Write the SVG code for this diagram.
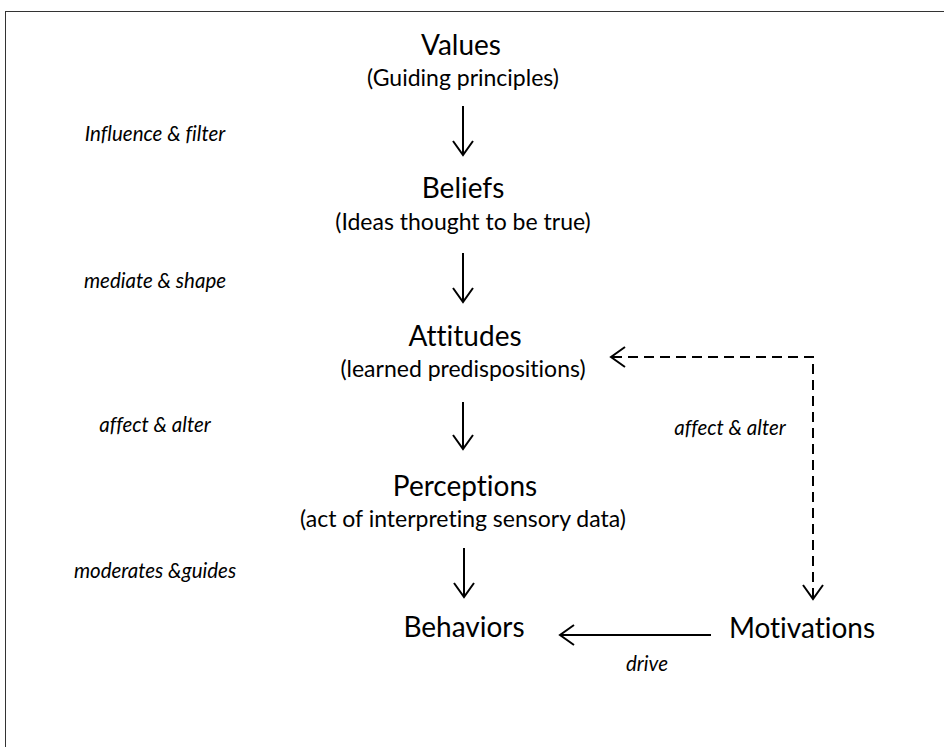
<svg xmlns="http://www.w3.org/2000/svg" width="944" height="747" viewBox="0 0 944 747">
<style>
text{font-family:Lato,"Open Sans","Liberation Sans",sans-serif;fill:#000;text-anchor:middle;font-variant-ligatures:none;font-feature-settings:"liga" 0}
.t{font-size:28px}
.s{font-size:23px}
.l{font-size:20.5px;font-style:italic}
.c{fill:none;stroke:#000;stroke-width:2}
.d{fill:none;stroke:#000;stroke-width:2;stroke-dasharray:10 6}
.h{fill:none;stroke:#000;stroke-width:2;stroke-linejoin:miter}
</style>
<rect x="5.5" y="11.5" width="1000" height="1000" fill="#fff" stroke="#333" stroke-width="1"/>
<g id="values"><text class="t" x="461" y="55">Values</text><text class="s" x="463" y="86">(Guiding principles)</text></g>
<g id="beliefs"><text class="t" x="463" y="198">Beliefs</text><text class="s" x="463" y="230">(Ideas thought to be true)</text></g>
<g id="attitudes"><text class="t" x="465" y="346">Attitudes</text><text class="s" x="463" y="377">(learned predispositions)</text></g>
<g id="perceptions"><text class="t" x="465" y="496">Perceptions</text><text class="s" x="463" y="527">(act of interpreting sensory data)</text></g>
<g id="behaviors"><text class="t" x="464" y="637">Behaviors</text></g>
<g id="motivations"><text class="t" x="802" y="638">Motivations</text></g>
<g id="connectors">
<line class="c" x1="463" y1="106" x2="463" y2="154"/><polyline class="h" points="453,141 463,155 473,141"/>
<line class="c" x1="463" y1="253" x2="463" y2="301"/><polyline class="h" points="453,288 463,302 473,288"/>
<line class="c" x1="463" y1="402" x2="463" y2="448"/><polyline class="h" points="453,435 463,449 473,435"/>
<line class="c" x1="464" y1="548" x2="464" y2="596"/><polyline class="h" points="454,583 464,597 474,583"/>
<line class="c" x1="711" y1="635" x2="561" y2="635"/><polyline class="h" points="574,625 560,635 574,645"/>
<polyline class="d" points="813,598 813,357 612,357"/>
<polyline class="h" points="625,347 611,357 625,367"/>
<polyline class="h" points="803,585 813,599 823,585"/>
<text class="l" x="155" y="141">Influence &amp; filter</text>
<text class="l" x="155" y="288">mediate &amp; shape</text>
<text class="l" x="155" y="432">affect &amp; alter</text>
<text class="l" x="155" y="578">moderates &amp;guides</text>
<text class="l" x="730" y="435">affect &amp; alter</text>
<text class="l" x="647" y="671">drive</text>
</g>
</svg>
